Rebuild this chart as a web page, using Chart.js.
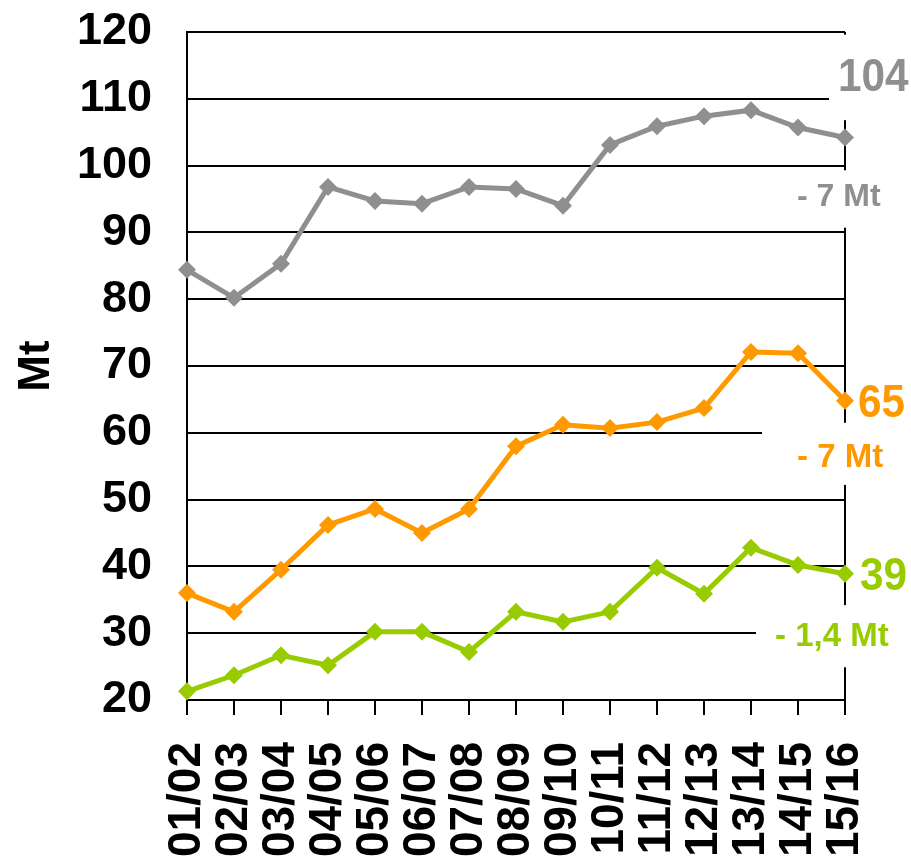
<!DOCTYPE html>
<html>
<head>
<meta charset="utf-8">
<script src="https://cdn.jsdelivr.net/npm/chart.js@4"></script>
<style>
  html, body { margin: 0; padding: 0; background: #fff; overflow: hidden; }
  #wrap { width: 911px; height: 856px; }
</style>
</head>
<body>
<div id="wrap"><canvas id="chart" width="911" height="856"></canvas></div>
<script>
const seasons = ["01/02", "02/03", "03/04", "04/05", "05/06", "06/07", "07/08", "08/09",
  "09/10", "10/11", "11/12", "12/13", "13/14", "14/15", "15/16"];
const grayValues = [84.4, 80.2, 85.3, 96.8, 94.7, 94.3, 96.8, 96.5, 94.0, 103.1, 105.9, 107.4, 108.3, 105.7, 104.2];
const orangeValues = [36.0, 33.2, 39.5, 46.2, 48.6, 45.0, 48.6, 58.0, 61.2, 60.7, 61.6, 63.7, 72.1, 71.9, 64.8];
const greenValues = [21.3, 23.7, 26.7, 25.2, 30.2, 30.2, 27.2, 33.2, 31.7, 33.2, 39.8, 35.9, 42.8, 40.2, 38.9];
const yTicks = [20, 30, 40, 50, 60, 70, 80, 90, 100, 110, 120];

const GRAY = "#8f8f8f", ORANGE = "#ff9900", GREEN = "#99cc00";

// white boxes that break the grid next to the end labels (y in data units, x offset from right edge)
const boxes = [
  { dx: -16, y1: 119.6, y2: 106.8 },
  { dx: -83, y1: 99.3, y2: 90.7 },
  { dx: -83, y1: 61.5, y2: 52.2 },
  { dx: -89, y1: 34.2, y2: 24.9 }
];
const notes = [
  { text: "104", color: GRAY, y: 113.1, dx: -7, size: 47, sx: 0.9 },
  { text: "- 7 Mt", color: GRAY, y: 95.3, dx: -48, size: 32, sx: 1 },
  { text: "65", color: ORANGE, y: 64.3, dx: 13, size: 47, sx: 0.9 },
  { text: "- 7 Mt", color: ORANGE, y: 56.2, dx: -48, size: 33, sx: 1 },
  { text: "39", color: GREEN, y: 38.4, dx: 15, size: 47, sx: 0.9 },
  { text: "- 1,4 Mt", color: GREEN, y: 29.4, dx: -70, size: 33, sx: 1 }
];

const endLabels = {
  id: "endLabels",
  beforeDatasetsDraw(chart) {
    const { ctx, chartArea, scales } = chart;
    const y = scales.y;
    ctx.save();
    ctx.strokeStyle = "#000";
    ctx.lineWidth = 2;
    ctx.beginPath();
    ctx.moveTo(chartArea.right, chartArea.top);
    ctx.lineTo(chartArea.right, chartArea.bottom);
    ctx.stroke();
    ctx.fillStyle = "#fff";
    boxes.forEach(b => {
      const top = y.getPixelForValue(b.y1), bot = y.getPixelForValue(b.y2);
      ctx.fillRect(chartArea.right + b.dx, top, chart.width - chartArea.right - b.dx, bot - top);
    });
    notes.forEach(n => {
      ctx.save();
      ctx.translate(chartArea.right + n.dx, y.getPixelForValue(n.y));
      ctx.scale(n.sx, 1);
      ctx.font = "bold " + n.size + "px 'Liberation Sans', Arial, sans-serif";
      ctx.fillStyle = n.color;
      ctx.textAlign = "left";
      ctx.textBaseline = "middle";
      ctx.fillText(n.text, 0, 0);
      ctx.restore();
    });
    ctx.restore();
  }
};

function line(label, data, color) {
  return {
    label: label,
    data: data,
    borderColor: color,
    backgroundColor: color,
    borderWidth: 5,
    pointStyle: "rectRot",
    pointRadius: 9,
    pointBorderWidth: 0,
    pointBackgroundColor: color,
    tension: 0
  };
}

new Chart(document.getElementById("chart"), {
  type: "line",
  data: {
    labels: seasons,
    datasets: [
      line("gray", grayValues, GRAY),
      line("orange", orangeValues, ORANGE),
      line("green", greenValues, GREEN)
    ]
  },
  options: {
    responsive: false,
    animation: false,
    layout: { padding: { top: 32, right: 66, left: 0, bottom: 0 } },
    plugins: { legend: { display: false }, tooltip: { enabled: false } },
    scales: {
      x: {
        offset: false,
        grid: { drawOnChartArea: false, drawTicks: true, tickLength: 15, color: "#000", lineWidth: 2 },
        border: { display: true, color: "#000", width: 2 },
        ticks: {
          minRotation: 90, maxRotation: 90, autoSkip: false, padding: 27, color: "#000",
          font: { family: "'Liberation Sans', Arial, sans-serif", weight: "bold", size: 46 }
        },
        afterFit(scale) {
          scale.height = 156;
          scale.paddingLeft = 0;
          scale.paddingRight = 0;
        }
      },
      y: {
        min: 20, max: 120,
        afterBuildTicks(scale) { scale.ticks = yTicks.map(v => ({ value: v })); },
        grid: { drawTicks: false, color: "#000", lineWidth: 2 },
        border: { display: true, color: "#000", width: 2 },
        ticks: {
          padding: 35, color: "#000",
          font: { family: "'Liberation Sans', Arial, sans-serif", weight: "bold", size: 45 }
        },
        title: {
          display: true, text: "Mt", color: "#000", padding: { top: 10, bottom: 0 },
          font: { family: "'Liberation Sans', Arial, sans-serif", weight: "bold", size: 44 }
        },
        afterFit(scale) {
          scale.width = 187;
          scale.paddingTop = 0;
          scale.paddingBottom = 0;
        }
      }
    }
  },
  plugins: [endLabels]
});
</script>
</body>
</html>
